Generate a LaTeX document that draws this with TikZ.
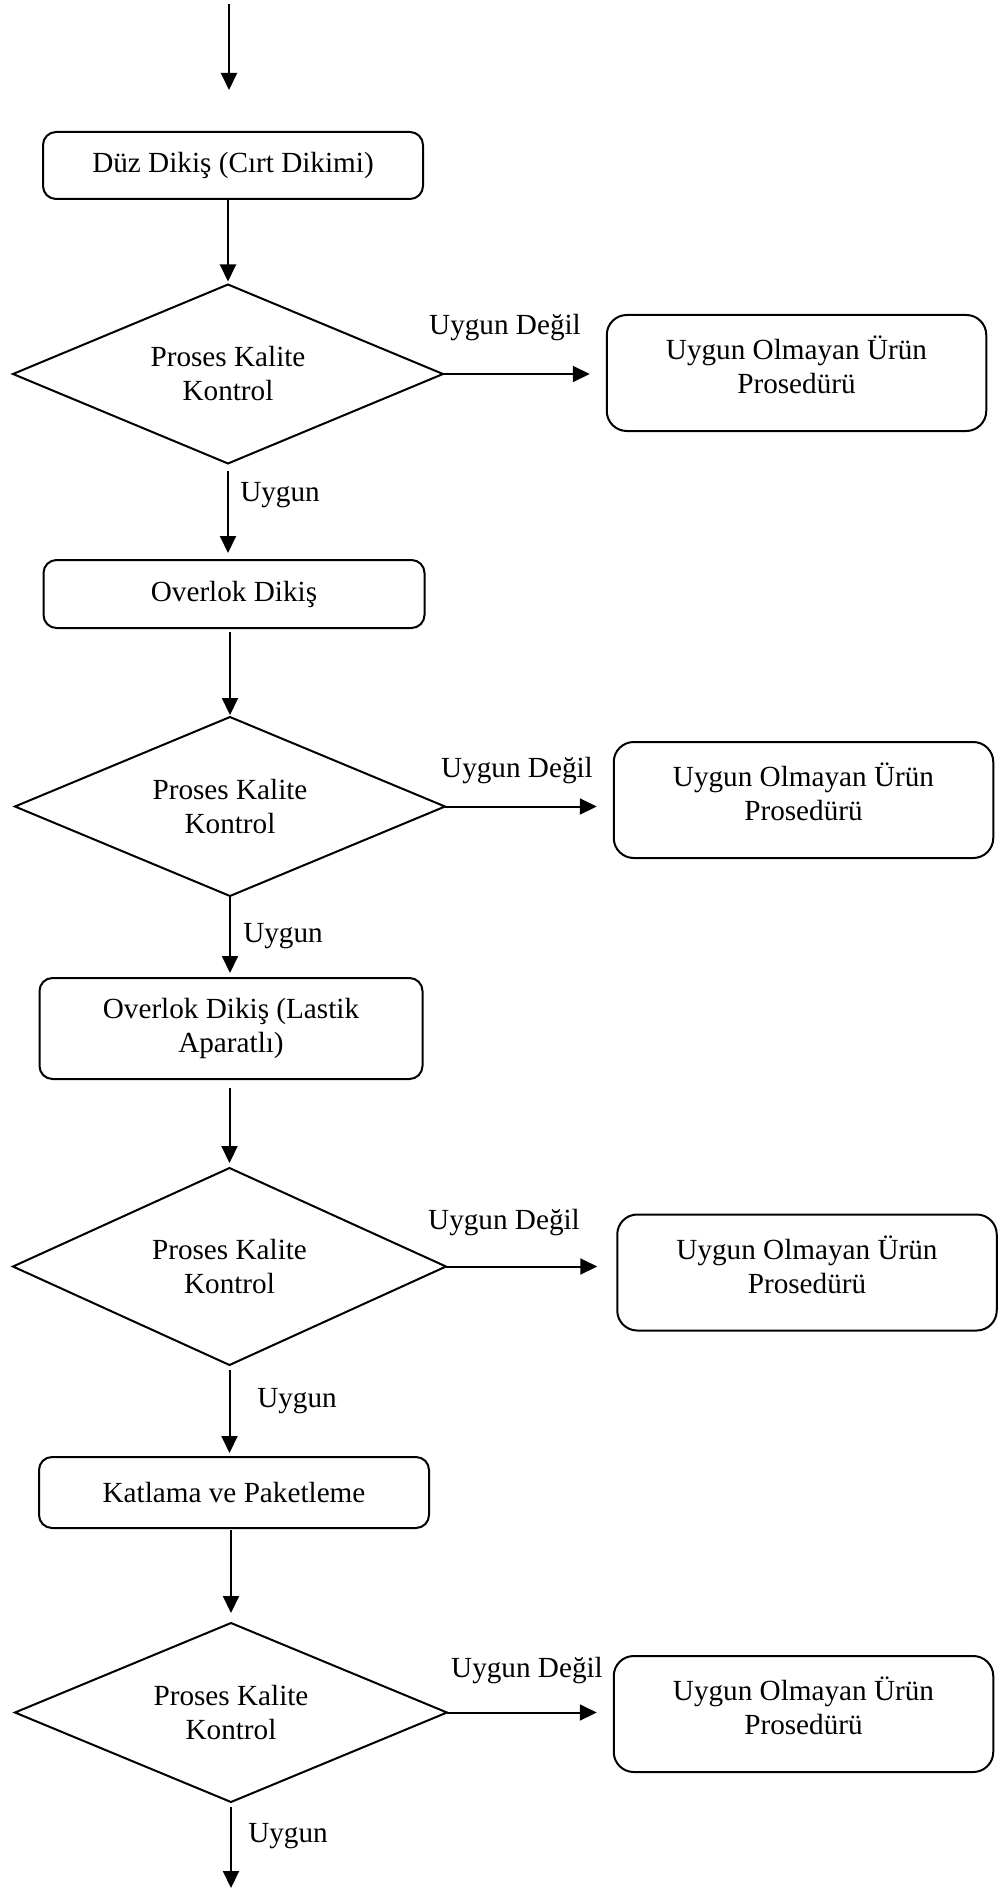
\documentclass[tikz,border=0pt]{standalone}
\usepackage{fontspec}
\setmainfont{Liberation Serif}
\usetikzlibrary{shapes.geometric,arrows.meta}
\begin{document}
\begin{tikzpicture}[x=0.5pt,y=-0.5pt,
  every node/.style={font=\fontsize{14.6pt}{17pt}\selectfont, inner sep=0pt, outer sep=0pt},
  pbox/.style={draw, line width=1pt, rounded corners=6.5pt, align=center},
  rbox/.style={draw, line width=1pt, rounded corners=10pt, minimum width=189.75pt, minimum height=58pt},
  dec/.style={draw, shape=diamond, aspect=2.4, line width=1pt, align=center},
  txt/.style={align=center},
  arr/.style={line width=1pt, -{Triangle[length=8.5pt,width=8pt]}}]

\useasboundingbox (0,0) rectangle (1006,1888);

% start
\coordinate (s0) at (229,4);
\coordinate (s1) at (229,90);

% process boxes
\node[pbox, minimum width=190pt, minimum height=33.5pt] (b1) at (233,165.5) {Düz Dikiş (Cırt Dikimi)};
\node[pbox, minimum width=190.5pt, minimum height=34pt] (b2) at (234,594) {Overlok Dikiş};
\node[pbox, minimum width=191.5pt, minimum height=50.5pt] (b3) at (231,1028.5) {Overlok Dikiş (Lastik\\Aparatlı)};
\node[pbox, minimum width=195pt, minimum height=35.5pt] (b4) at (234,1492.5) {Katlama ve Paketleme};

% decisions
\node[dec, minimum width=215pt, minimum height=89.5pt] (d1) at (228,374) {Proses Kalite\\Kontrol};
\node[dec, minimum width=215pt, minimum height=89.5pt] (d2) at (230,806.5) {Proses Kalite\\Kontrol};
\node[dec, minimum width=216.5pt, minimum height=98.5pt] (d3) at (229.5,1266.5) {Proses Kalite\\Kontrol};
\node[dec, minimum width=216pt, minimum height=89.5pt] (d4) at (231,1712.5) {Proses Kalite\\Kontrol};

% non-conforming boxes
\node[rbox] (r1) at (796.5,373) {};
\node[rbox] (r2) at (803.5,800) {};
\node[rbox] (r3) at (807,1272.5) {};
\node[rbox] (r4) at (803.5,1714) {};
\node[txt] (r1t) at ([yshift=4pt]r1.center) {Uygun Olmayan Ürün\\Prosedürü};
\node[txt] (r2t) at ([yshift=4pt]r2.center) {Uygun Olmayan Ürün\\Prosedürü};
\node[txt] (r3t) at ([yshift=4pt]r3.center) {Uygun Olmayan Ürün\\Prosedürü};
\node[txt] (r4t) at ([yshift=4pt]r4.center) {Uygun Olmayan Ürün\\Prosedürü};

% labels
\node (ud1) at (505,328) {Uygun Değil};
\node (ud2) at (517,771) {Uygun Değil};
\node (ud3) at (504,1223) {Uygun Değil};
\node (ud4) at (527,1670) {Uygun Değil};
\node (u1) at (280,495) {Uygun};
\node (u2) at (283,936) {Uygun};
\node (u3) at (297,1401) {Uygun};
\node (u4) at (288,1836) {Uygun};

\coordinate (e1) at (231,1888);

% vertical connectors
\draw[arr] (s0) -- (s1);
\draw[arr, shorten >=1.5pt] (b1.south -| d1.north) -- (d1.north);
\draw[arr, shorten <=3.5pt, shorten >=3.5pt] (d1.south) -- (d1.south |- b2.north);
\draw[arr, shorten <=2pt, shorten >=1pt] (b2.south -| d2.north) -- (d2.north);
\draw[arr, shorten >=2.5pt] (d2.south) -- (d2.south |- b3.north);
\draw[arr, shorten <=4.5pt, shorten >=2.5pt] (b3.south -| d3.north) -- (d3.north);
\draw[arr, shorten <=2.5pt, shorten >=2pt] (d3.south) -- (d3.south |- b4.north);
\draw[arr, shorten <=1pt, shorten >=5pt] (b4.south -| d4.north) -- (d4.north);
\draw[arr, shorten <=2.5pt] (d4.south) -- (e1);

% horizontal connectors
\draw[arr, shorten >=8.5pt] (d1.east) -- (d1.east -| r1.west);
\draw[arr, shorten >=8.5pt] (d2.east) -- (d2.east -| r2.west);
\draw[arr, shorten >=10pt] (d3.east) -- (d3.east -| r3.west);
\draw[arr, shorten >=8.5pt] (d4.east) -- (d4.east -| r4.west);
\end{tikzpicture}
\end{document}
